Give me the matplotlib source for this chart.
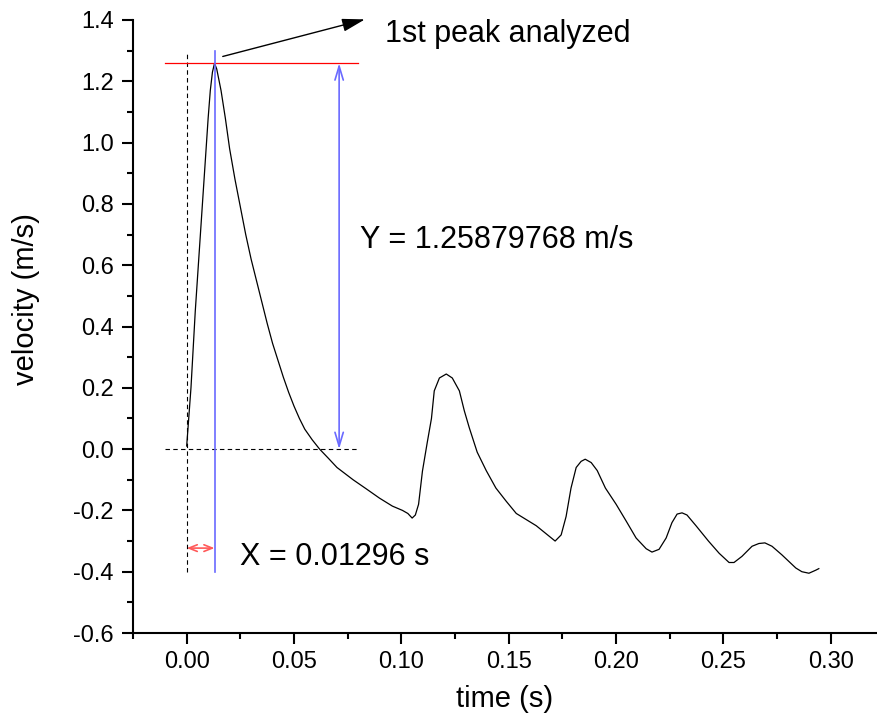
import matplotlib
matplotlib.use("Agg")
import matplotlib.pyplot as plt
from matplotlib.ticker import MultipleLocator

plt.rcParams['font.family'] = ['Liberation Sans', 'DejaVu Sans']

# --- data
time = [0, 0.002, 0.004, 0.006, 0.008, 0.010, 0.011, 0.012, 0.01296, 0.014,
        0.016, 0.018, 0.020, 0.0225, 0.025, 0.0275, 0.030, 0.0325, 0.035, 0.0375,
        0.040, 0.0425, 0.045, 0.0475, 0.050, 0.0525, 0.055, 0.0585, 0.0619, 0.066, 0.070,
        0.0775, 0.0837, 0.0898, 0.0958, 0.1005, 0.103, 0.105, 0.1065, 0.108, 0.1098,
        0.112, 0.114, 0.1153, 0.1177, 0.1209, 0.1237, 0.127, 0.1293, 0.1316, 0.1353,
        0.1395, 0.144, 0.1488, 0.1535, 0.1628, 0.1716, 0.1744, 0.1767, 0.179, 0.1814,
        0.1837, 0.1856, 0.1884, 0.1912, 0.195, 0.200, 0.2047, 0.2093, 0.214, 0.2167,
        0.220, 0.2233, 0.226, 0.2284, 0.2307, 0.233, 0.2372, 0.243, 0.248, 0.2526,
        0.2549, 0.2586, 0.2633, 0.2665, 0.2693, 0.2726, 0.2772, 0.2837, 0.2865, 0.2898,
        0.293, 0.2944]
velocity = [0.01, 0.2, 0.45, 0.66, 0.87, 1.08, 1.17, 1.23, 1.2588, 1.24,
            1.17, 1.08, 0.98, 0.88, 0.79, 0.70, 0.62, 0.55, 0.48, 0.41,
            0.345, 0.29, 0.235, 0.185, 0.14, 0.10, 0.065, 0.03, 0.0, -0.03, -0.06,
            -0.10, -0.13, -0.16, -0.186, -0.20, -0.21, -0.225, -0.215, -0.18, -0.072,
            0.02, 0.10, 0.19, 0.232, 0.245, 0.232, 0.19, 0.125, 0.07, -0.01,
            -0.07, -0.127, -0.17, -0.21, -0.25, -0.30, -0.28, -0.22, -0.127, -0.06,
            -0.04, -0.033, -0.044, -0.07, -0.127, -0.18, -0.235, -0.29, -0.325, -0.336,
            -0.327, -0.29, -0.24, -0.212, -0.208, -0.215, -0.25, -0.30, -0.34, -0.37,
            -0.37, -0.35, -0.317, -0.308, -0.306, -0.317, -0.345, -0.388, -0.40, -0.405,
            -0.395, -0.39]

peak_t = 0.01296
peak_v = 1.25879768
x_text = "X = 0.01296 s"
y_text = "Y = 1.25879768 m/s"
peak_text = "1st peak analyzed"

# --- figure
fig = plt.figure(figsize=(8.77, 7.28), dpi=100)
ax = fig.add_axes([133 / 877, 95 / 728, 744 / 877, 613 / 728])

ax.plot(time, velocity, color='black', lw=0.9)

# guide lines
dash = dict(color='black', lw=0.8, dashes=(4, 3))
ax.plot([-0.01, 0.08], [0, 0], **dash)
ax.plot([0, 0], [-0.4, 1.3], **dash)
ax.plot([-0.01, 0.08], [peak_v, peak_v], color='red', lw=0.9)
ax.plot([peak_t, peak_t], [-0.4, 1.3], color='#6a6aff', lw=1.2)

# dimension arrows
ax.annotate('', xy=(0.071, peak_v), xytext=(0.071, 0),
            arrowprops=dict(arrowstyle='<->,head_length=0.5,head_width=0.15',
                            color='#6a6aff', lw=1.2, mutation_scale=20,
                            shrinkA=0, shrinkB=0))
ax.annotate('', xy=(peak_t, -0.323), xytext=(0, -0.323),
            arrowprops=dict(arrowstyle='<->,head_length=0.3,head_width=0.12',
                            color='#ff5a5a', lw=1.2, mutation_scale=20,
                            shrinkA=0, shrinkB=0))
ax.annotate('', xy=(0.083, 1.402), xytext=(0.0168, 1.281),
            annotation_clip=False,
            arrowprops=dict(arrowstyle='-|>,head_length=0.7,head_width=0.2',
                            color='black', lw=1.0, mutation_scale=20,
                            shrinkA=0, shrinkB=0))

ax.text(0.0925, 1.328, peak_text, fontsize=22, va='baseline', clip_on=False)
ax.text(0.0805, 0.657, y_text, fontsize=22, va='baseline')
ax.text(0.0248, -0.379, x_text, fontsize=22, va='baseline')

# axes styling (Origin-like)
ax.set_xlim(-0.025, 0.3215)
ax.set_ylim(-0.6, 1.4)
for side in ['top', 'right']:
    ax.spines[side].set_visible(False)
for side in ['left', 'bottom']:
    ax.spines[side].set_linewidth(1.5)

ax.xaxis.set_major_locator(MultipleLocator(0.05))
ax.xaxis.set_minor_locator(MultipleLocator(0.025))
ax.yaxis.set_major_locator(MultipleLocator(0.2))
ax.yaxis.set_minor_locator(MultipleLocator(0.1))
ax.xaxis.set_major_formatter(plt.FuncFormatter(lambda v, p: f'{v:.2f}'))
ax.yaxis.set_major_formatter(plt.FuncFormatter(lambda v, p: f'{v:.1f}'))
ax.tick_params(which='major', direction='out', length=8, width=1.5, labelsize=17)
ax.tick_params(which='minor', direction='out', length=4.5, width=1.5)
ax.tick_params(axis='x', pad=5)
ax.tick_params(axis='y', pad=6)

ax.set_xlabel('time (s)', fontsize=21)
ax.set_ylabel('velocity (m/s)', fontsize=21)
ax.xaxis.set_label_coords(0.5, -0.085)
ax.yaxis.set_label_coords(-0.125, 0.545)

fig.savefig('out.png', dpi=100)
